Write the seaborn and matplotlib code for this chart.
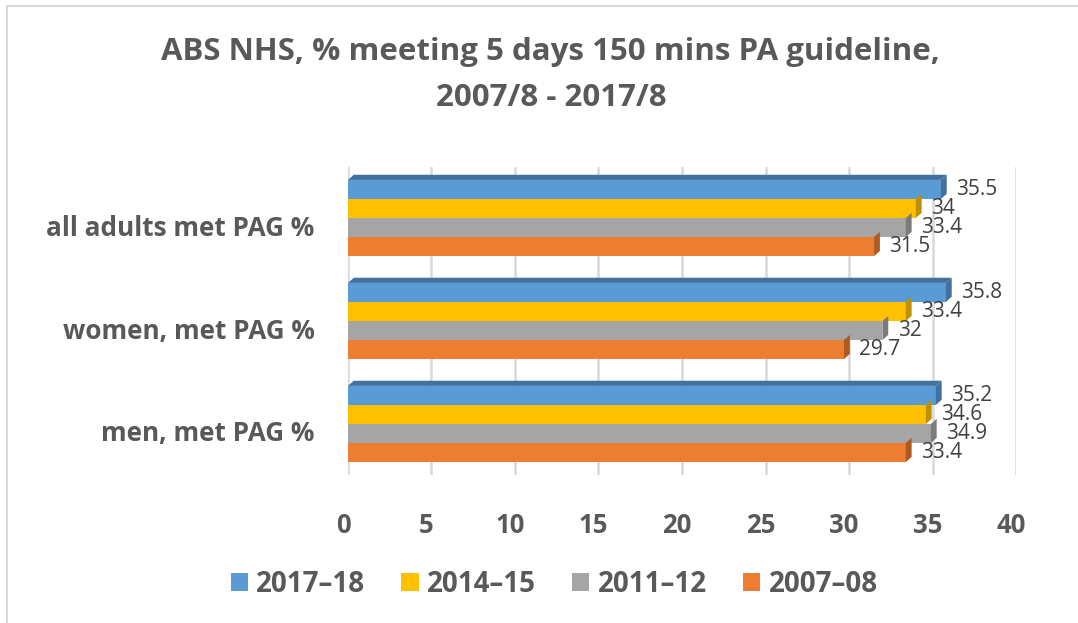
import pandas as pd
import numpy as np
import matplotlib
matplotlib.use('Agg')
import matplotlib.pyplot as plt
import matplotlib.transforms as mtransforms
from matplotlib.patches import Polygon, Patch
from matplotlib.lines import Line2D
import seaborn as sns

# data
groups = ['all adults met PAG %', 'women, met PAG %', 'men, met PAG %']
periods = ['2017\u201318', '2014\u201315', '2011\u201312', '2007\u201308']
v_2017_18 = [35.5, 35.8, 35.2]
v_2014_15 = [34.0, 33.4, 34.6]
v_2011_12 = [33.4, 32.0, 34.9]
v_2007_08 = [31.5, 29.7, 33.4]
x_ticks = [0, 5, 10, 15, 20, 25, 30, 35, 40]

COLORS = ['#5B9BD5', '#FFC000', '#A5A5A5', '#ED7D31']
DARK = ['#41719C', '#BF9000', '#7C7C7C', '#AE5A21']
TXT = '#595959'

df = pd.DataFrame({
    'group': groups * 4,
    'period': np.repeat(periods, 3),
    'value': v_2017_18 + v_2014_15 + v_2011_12 + v_2007_08,
})

sns.set_theme(style='white')
plt.rcParams['font.family'] = ['Open Sans', 'DejaVu Sans']

fig = plt.figure(figsize=(10.78, 6.23), dpi=100, facecolor='white')
ax = fig.add_axes([0.3228, 0.2368, 0.6197, 0.4959])

sns.barplot(data=df, y='group', x='value', hue='period', order=groups,
            hue_order=periods, palette=COLORS, orient='h', width=0.74,
            saturation=1, ax=ax, legend=False, edgecolor='none', zorder=3)

ax.set_xlim(0, 40)
ax.set_ylim(2.5, -0.5)
ax.set_xticks(x_ticks)
ax.set_xlabel('')
ax.set_ylabel('')
ax.tick_params(axis='x', length=0, pad=26, labelsize=18.5, labelcolor=TXT)
ax.tick_params(axis='y', length=0, pad=24, labelsize=18.8, labelcolor=TXT)
shift_x = mtransforms.ScaledTranslation(-5 / 100, 0, fig.dpi_scale_trans)
shift_y = mtransforms.ScaledTranslation(0, -7 / 100, fig.dpi_scale_trans)
for lab in ax.get_xticklabels():
    lab.set_fontweight('bold')
    lab.set_transform(lab.get_transform() + shift_x)
for lab in ax.get_yticklabels():
    lab.set_fontweight('bold')
    lab.set_transform(lab.get_transform() + shift_y)
for s in ax.spines.values():
    s.set_visible(False)
ax.grid(axis='x', color='#D9D9D9', linewidth=1.8, zorder=0)

# pseudo 3D: end caps and top faces
dx, dy = 0.35, 0.05
for i, cont in enumerate(ax.containers):
    for bar in cont:
        x0, y0 = bar.get_x(), bar.get_y()
        w, h = bar.get_width(), bar.get_height()
        side = Polygon([(x0 + w, y0 + h), (x0 + w + dx, y0 + h - dy),
                        (x0 + w + dx, y0 - dy), (x0 + w, y0)],
                       closed=True, facecolor=DARK[i], edgecolor='none', zorder=4)
        ax.add_patch(side)
        if i == 0:
            top = Polygon([(x0, y0), (x0 + dx, y0 - dy), (x0 + w + dx, y0 - dy), (x0 + w, y0)],
                          closed=True, facecolor=DARK[0], edgecolor='none', zorder=4)
            ax.add_patch(top)
    ax.bar_label(cont, fmt='%g', padding=11, fontsize=15, color='#404040', zorder=5)

fig.text(0.511, 0.917, 'ABS NHS, % meeting 5 days 150 mins PA guideline,',
         ha='center', va='center', fontsize=22.5, fontweight='bold', color=TXT)
fig.text(0.511, 0.843, '2007/8 - 2017/8',
         ha='center', va='center', fontsize=22.5, fontweight='bold', color=TXT)

handles = [Patch(facecolor=c, edgecolor='none') for c in COLORS]
leg = fig.legend(handles, periods, loc='center', bbox_to_anchor=(0.514, 0.062), ncol=4,
                 frameon=False, fontsize=20, handlelength=0.62, handleheight=0.62,
                 handletextpad=0.3, columnspacing=1.3)
for t in leg.get_texts():
    t.set_fontweight('bold')
    t.set_color(TXT)

# chart border (top and left edges visible)
fig.add_artist(Line2D([7 / 1078, 7 / 1078], [0, 1 - 6 / 623], color='#D9D9D9', lw=1.5))
fig.add_artist(Line2D([7 / 1078, 1], [1 - 6 / 623, 1 - 6 / 623], color='#D9D9D9', lw=1.5))

fig.savefig('out.png', dpi=100, facecolor='white')
